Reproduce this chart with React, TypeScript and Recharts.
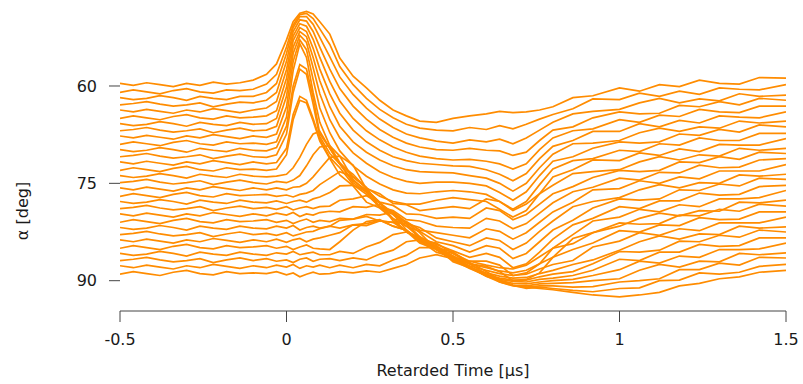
import React from 'react';
import { LineChart, Line, XAxis, YAxis, Label } from 'recharts';

// retarded time grid [µs]
const TIME = [
  -0.5, -0.46, -0.42, -0.38, -0.34, -0.3, -0.26, -0.22, -0.18, -0.14, -0.1,
  -0.06, -0.03, 0, 0.02, 0.04, 0.06, 0.08, 0.1,
  0.13, 0.16, 0.2, 0.24, 0.28, 0.32, 0.36, 0.4, 0.45,
  0.5, 0.55, 0.6, 0.64, 0.68, 0.72, 0.76, 0.8,
  0.86, 0.92, 1.0, 1.06, 1.12, 1.18, 1.24, 1.3, 1.36, 1.42, 1.5,
];

// one trace per observation angle, values in degrees
const A60 = [59.6, 59.9, 59.5, 59.8, 60.1, 59.6, 59.9, 59.4, 59.7, 59.5, 59.1, 58.2, 56.6, 52.9, 50.1, 48.8, 48.5, 48.9, 50.1, 52.0, 55.7, 58.5, 60.3, 62.2, 63.7, 64.6, 65.4, 65.6, 65.0, 64.6, 64.3, 63.9, 64.1, 64.0, 63.7, 63.2, 61.8, 61.5, 60.3, 60.8, 59.8, 60.1, 59.1, 59.6, 59.7, 58.7, 58.8];
const A61 = [61.0, 60.6, 60.9, 61.2, 60.7, 60.4, 60.9, 61.1, 60.6, 60.7, 60.5, 59.7, 58.2, 54.0, 50.6, 49.0, 48.8, 49.6, 51.2, 53.6, 57.0, 59.8, 61.9, 63.6, 64.9, 65.9, 66.5, 66.8, 66.9, 66.4, 66.7, 66.1, 66.6, 65.9, 65.1, 64.4, 63.5, 62.0, 62.1, 61.1, 61.6, 60.8, 61.3, 60.3, 60.5, 60.6, 59.8];
const A62 = [61.8, 62.1, 61.9, 61.5, 61.8, 62.2, 61.6, 61.9, 62.1, 61.6, 61.6, 61.0, 59.6, 55.0, 51.0, 49.3, 49.3, 50.5, 52.5, 55.5, 58.6, 61.3, 63.4, 65.1, 66.4, 67.4, 68.0, 68.5, 68.8, 68.3, 68.6, 68.2, 68.9, 68.0, 66.8, 65.6, 64.3, 63.9, 63.6, 62.6, 61.9, 62.6, 62.0, 62.3, 61.2, 61.6, 61.4];
const A63 = [62.9, 62.7, 62.4, 62.8, 63.1, 62.9, 62.6, 63.2, 62.8, 62.5, 62.6, 62.2, 61.0, 56.2, 51.6, 49.8, 50.0, 51.6, 54.0, 57.4, 60.4, 63.1, 65.1, 66.7, 67.9, 68.8, 69.4, 69.8, 69.9, 69.6, 69.9, 70.0, 70.7, 70.2, 68.4, 66.8, 66.3, 64.9, 64.0, 64.3, 64.2, 63.0, 63.2, 62.4, 62.9, 61.9, 62.2];
const A64 = [63.7, 64.0, 63.6, 63.9, 64.2, 63.7, 64.0, 63.5, 63.8, 64.1, 63.7, 63.4, 62.4, 57.5, 52.3, 50.4, 50.8, 52.8, 55.6, 59.3, 62.3, 65.0, 66.9, 68.3, 69.4, 70.2, 70.8, 71.2, 71.4, 71.3, 71.6, 72.0, 72.8, 72.0, 69.8, 68.0, 66.9, 66.6, 65.2, 65.6, 64.5, 64.7, 63.6, 64.0, 64.1, 63.1, 63.1];
const A65 = [65.0, 64.6, 64.9, 65.2, 64.7, 64.4, 64.9, 65.1, 64.6, 64.9, 64.8, 64.6, 63.8, 58.8, 53.0, 51.0, 51.6, 54.2, 57.4, 61.2, 64.2, 66.8, 68.6, 69.9, 70.9, 71.5, 71.9, 72.1, 72.3, 72.4, 72.9, 73.6, 74.6, 73.5, 71.2, 69.3, 68.4, 67.0, 67.0, 65.8, 66.3, 65.3, 65.7, 64.6, 64.8, 64.9, 64.0];
const A66 = [65.8, 66.1, 65.9, 65.5, 65.8, 66.2, 65.6, 65.9, 66.1, 65.6, 65.9, 65.8, 65.0, 60.2, 54.0, 51.6, 52.4, 55.6, 59.2, 63.2, 66.2, 68.6, 70.2, 71.4, 72.3, 72.9, 73.2, 73.3, 73.4, 73.8, 74.2, 75.0, 76.2, 75.0, 72.6, 70.5, 68.9, 68.8, 68.4, 67.2, 66.5, 67.0, 66.3, 66.5, 65.4, 65.7, 65.4];
const A67 = [66.9, 66.7, 66.4, 66.8, 67.1, 66.9, 66.6, 67.2, 66.8, 66.5, 66.9, 66.8, 66.2, 61.6, 55.0, 52.2, 53.3, 57.2, 61.2, 65.2, 68.0, 70.3, 71.9, 73.2, 74.1, 74.7, 75.0, 74.8, 74.8, 75.0, 75.4, 76.4, 77.6, 76.3, 73.8, 71.6, 70.9, 69.6, 68.6, 68.8, 68.6, 67.4, 67.6, 66.7, 67.1, 66.0, 66.3];
const A68 = [67.7, 68.0, 67.6, 67.9, 68.2, 67.7, 68.0, 67.5, 67.8, 68.1, 67.7, 67.9, 67.4, 63.2, 56.2, 52.9, 54.4, 59.0, 63.4, 67.2, 70.0, 72.3, 73.9, 75.1, 76.0, 76.5, 76.6, 76.3, 76.1, 76.3, 76.7, 77.8, 79.0, 77.8, 75.2, 72.8, 71.5, 71.2, 69.9, 70.1, 68.9, 69.1, 68.0, 68.4, 68.4, 67.3, 67.3];
const A69 = [69.0, 68.6, 68.9, 69.2, 68.7, 68.4, 68.9, 69.1, 68.6, 68.9, 68.8, 69.0, 68.6, 64.8, 57.6, 53.5, 55.6, 61.0, 65.6, 69.2, 71.8, 74.0, 75.7, 77.0, 77.8, 78.2, 78.2, 77.6, 77.2, 77.5, 77.8, 79.0, 80.2, 79.2, 76.6, 74.0, 72.9, 71.4, 71.5, 70.3, 70.7, 69.7, 70.1, 69.0, 69.1, 69.1, 68.1];
const A70 = [69.8, 70.1, 69.9, 69.5, 69.8, 70.2, 69.6, 69.9, 70.1, 69.6, 69.9, 70.0, 69.5, 66.2, 60.0, 56.7, 57.4, 61.8, 67.4, 69.6, 72.0, 73.6, 75.8, 76.6, 78.1, 78.3, 79.2, 78.9, 78.6, 78.9, 77.4, 77.8, 79.2, 78.2, 76.6, 75.3, 73.5, 73.2, 72.9, 71.7, 70.9, 71.4, 70.6, 70.8, 69.6, 69.9, 69.6];
const A71 = [70.9, 70.7, 70.4, 70.8, 71.1, 70.9, 70.6, 71.2, 70.8, 70.5, 70.9, 71.0, 70.6, 67.4, 61.0, 57.4, 58.2, 62.8, 67.8, 70.4, 72.0, 74.6, 76.0, 77.9, 78.4, 79.7, 79.8, 80.4, 80.2, 80.4, 78.8, 79.2, 80.6, 79.8, 78.2, 76.6, 75.5, 74.1, 73.0, 73.2, 73.0, 71.7, 71.8, 70.9, 71.3, 70.2, 70.4];
const A72 = [71.7, 72.0, 71.6, 71.9, 72.2, 71.7, 72.0, 71.5, 71.8, 72.1, 71.7, 72.0, 71.8, 69.6, 64.4, 61.6, 62.2, 65.0, 68.2, 71.0, 72.6, 75.2, 76.7, 78.6, 79.2, 80.6, 80.8, 81.6, 81.8, 81.9, 80.4, 80.8, 82.0, 81.2, 79.6, 78.0, 76.3, 75.6, 74.2, 74.5, 73.3, 73.4, 72.2, 72.6, 72.5, 71.4, 71.2];
const A73 = [73.0, 72.6, 72.9, 73.2, 72.7, 72.4, 72.9, 73.1, 72.6, 72.9, 72.8, 73.0, 72.8, 70.6, 65.2, 62.2, 62.6, 65.4, 68.5, 71.2, 73.7, 75.4, 77.9, 78.8, 80.5, 80.9, 82.2, 82.6, 83.0, 83.4, 82.0, 82.4, 83.6, 82.6, 81.0, 79.4, 77.9, 76.0, 75.8, 74.6, 75.0, 74.0, 74.3, 73.1, 73.1, 73.1, 72.1];
const A74 = [73.8, 74.1, 73.9, 73.5, 73.8, 74.2, 73.6, 73.9, 74.1, 73.6, 73.9, 74.0, 73.9, 73.6, 72.6, 71.0, 69.0, 67.4, 67.0, 69.6, 72.0, 74.9, 76.4, 78.6, 79.5, 81.2, 81.8, 83.4, 84.0, 84.6, 83.4, 83.8, 85.2, 84.2, 82.4, 80.8, 78.6, 77.8, 77.2, 76.0, 75.2, 75.7, 74.9, 75.0, 73.7, 73.9, 73.6];
const A75 = [74.9, 74.7, 74.4, 74.8, 75.1, 74.9, 74.6, 75.2, 74.8, 74.5, 74.9, 75.1, 74.7, 74.9, 74.5, 73.8, 72.3, 70.6, 69.4, 69.2, 70.8, 74.4, 76.3, 78.7, 79.8, 81.6, 82.4, 84.0, 84.6, 85.6, 84.6, 85.0, 86.6, 85.8, 84.0, 82.2, 80.7, 78.8, 77.4, 77.6, 77.4, 76.0, 76.1, 75.1, 75.4, 74.2, 74.4];
const A76 = [75.7, 76.0, 75.6, 75.9, 76.2, 75.7, 76.0, 75.5, 75.8, 76.1, 75.7, 76.0, 75.7, 76.0, 75.6, 75.5, 75.0, 74.0, 72.8, 71.0, 70.8, 72.2, 75.9, 78.0, 80.5, 81.6, 83.3, 84.4, 85.4, 86.4, 85.8, 86.4, 88.0, 87.4, 85.6, 83.6, 81.4, 80.4, 78.6, 78.9, 77.7, 77.7, 76.5, 76.8, 76.7, 75.5, 75.3];
const A77 = [77.0, 76.6, 76.9, 77.2, 76.7, 76.4, 76.9, 77.1, 76.6, 76.9, 76.8, 76.7, 77.0, 76.8, 77.1, 76.7, 76.5, 76.1, 75.2, 74.2, 73.2, 74.0, 75.6, 78.7, 80.4, 82.5, 83.4, 85.2, 85.8, 87.0, 87.0, 87.6, 89.2, 88.8, 87.4, 85.0, 82.9, 80.8, 80.2, 79.0, 79.4, 78.3, 78.6, 77.4, 77.4, 77.2, 76.1];
const A78 = [77.8, 78.1, 77.9, 77.5, 77.8, 78.2, 77.6, 77.9, 78.1, 77.6, 77.9, 78.0, 77.7, 78.1, 77.8, 77.6, 77.9, 77.4, 77.1, 76.4, 75.4, 75.3, 76.2, 78.0, 80.8, 82.4, 84.2, 85.2, 86.2, 87.4, 87.8, 88.6, 90.0, 89.8, 88.8, 86.4, 83.5, 82.6, 81.6, 80.4, 79.6, 80.0, 79.2, 79.3, 77.9, 78.0, 77.6];
const A79 = [78.9, 78.7, 78.4, 78.8, 79.1, 78.9, 78.6, 79.2, 78.8, 78.5, 78.9, 78.7, 79.0, 78.6, 79.1, 78.8, 78.6, 78.9, 78.6, 78.5, 77.6, 77.4, 76.9, 78.0, 79.6, 82.2, 83.8, 85.6, 86.4, 87.0, 87.6, 88.0, 88.2, 87.6, 86.3, 85.0, 84.3, 82.6, 81.1, 81.3, 81.2, 79.9, 80.0, 79.0, 79.3, 78.2, 78.5];
const A80 = [79.7, 80.0, 79.6, 79.9, 80.2, 79.7, 80.0, 79.5, 79.8, 80.1, 79.7, 80.0, 79.6, 79.9, 79.5, 80.1, 79.7, 79.9, 79.5, 79.3, 79.4, 78.6, 78.7, 78.2, 79.6, 81.2, 83.6, 85.0, 86.6, 87.4, 88.0, 88.5, 88.8, 88.4, 87.4, 86.4, 85.2, 84.2, 82.3, 82.5, 81.4, 81.5, 80.3, 80.6, 80.5, 79.4, 79.4];
const A81 = [81.0, 80.6, 80.9, 81.2, 80.7, 80.4, 80.9, 81.1, 80.6, 80.9, 80.8, 80.6, 81.0, 80.7, 81.2, 80.8, 80.5, 81.0, 80.7, 80.9, 80.4, 80.5, 79.8, 79.9, 79.4, 81.0, 82.6, 85.2, 86.9, 87.7, 88.4, 88.9, 89.2, 89.0, 88.2, 87.5, 86.9, 84.8, 83.9, 82.6, 83.0, 82.0, 82.3, 81.1, 81.1, 81.1, 80.2];
const A82 = [81.8, 82.1, 81.9, 81.5, 81.8, 82.2, 81.6, 81.9, 82.1, 81.6, 81.9, 82.0, 81.6, 81.9, 81.5, 82.2, 81.8, 81.6, 81.9, 81.6, 81.9, 81.4, 81.5, 80.8, 81.0, 81.2, 83.2, 84.8, 87.1, 88.0, 88.8, 89.3, 89.6, 89.5, 88.9, 88.4, 87.5, 86.8, 85.3, 84.0, 83.1, 83.6, 82.8, 82.9, 81.6, 81.9, 81.7];
const A83 = [82.9, 82.7, 82.4, 82.8, 83.1, 82.9, 82.6, 83.2, 82.8, 82.5, 82.9, 82.7, 83.0, 82.6, 83.1, 82.8, 82.5, 82.4, 82.0, 81.6, 80.7, 80.5, 80.1, 80.8, 81.0, 82.4, 83.4, 85.2, 86.6, 87.9, 89.0, 89.6, 89.9, 89.9, 89.4, 89.0, 88.6, 87.4, 85.5, 85.6, 85.3, 83.9, 84.0, 83.0, 83.3, 82.2, 82.5];
const A84 = [83.7, 84.0, 83.6, 83.9, 84.2, 83.7, 84.0, 83.5, 83.8, 84.1, 83.7, 84.0, 83.6, 84.1, 83.7, 83.5, 84.0, 83.6, 83.4, 83.0, 82.6, 81.4, 81.2, 80.7, 81.6, 82.2, 84.0, 85.0, 86.8, 88.1, 89.2, 89.8, 90.1, 90.2, 89.8, 89.6, 89.2, 88.4, 86.7, 86.9, 85.6, 85.6, 84.4, 84.7, 84.6, 83.4, 83.4];
const A85 = [85.0, 84.6, 84.9, 85.2, 84.7, 84.4, 84.9, 85.1, 84.6, 84.9, 84.8, 84.6, 85.0, 84.7, 85.2, 84.8, 84.5, 85.0, 85.1, 85.2, 84.0, 82.2, 80.9, 80.6, 81.6, 82.2, 83.8, 84.8, 86.4, 88.0, 89.3, 90.0, 90.4, 90.5, 90.2, 90.0, 89.8, 89.2, 88.3, 87.0, 87.3, 86.2, 86.4, 85.2, 85.2, 85.1, 84.2];
const A86 = [85.8, 86.1, 85.9, 85.5, 85.8, 86.2, 85.6, 85.9, 86.1, 85.6, 85.9, 86.1, 85.7, 85.9, 85.5, 86.0, 85.8, 85.6, 86.0, 86.0, 85.5, 85.8, 84.8, 84.1, 82.9, 82.5, 83.6, 84.6, 86.2, 87.8, 89.3, 90.2, 90.7, 90.8, 90.5, 90.4, 90.3, 90.0, 89.7, 88.4, 87.5, 87.9, 87.0, 87.1, 85.8, 86.0, 85.7];
const A87 = [86.9, 86.7, 86.4, 86.8, 87.1, 86.9, 86.6, 87.2, 86.8, 86.5, 86.9, 86.6, 87.0, 86.8, 87.2, 86.7, 86.5, 87.0, 86.7, 86.6, 86.9, 86.5, 86.8, 85.9, 85.3, 84.0, 83.7, 84.2, 85.8, 87.4, 89.0, 90.2, 90.8, 91.0, 90.8, 90.8, 91.0, 90.9, 90.2, 90.0, 89.7, 88.3, 88.3, 87.3, 87.6, 86.4, 86.5];
const A88 = [87.7, 88.0, 87.6, 87.9, 88.2, 87.7, 88.0, 87.5, 87.8, 88.1, 87.7, 88.0, 87.6, 87.9, 87.5, 88.1, 87.7, 87.9, 87.6, 88.0, 87.6, 88.0, 87.5, 87.7, 86.8, 86.1, 84.9, 84.9, 85.6, 87.2, 88.6, 89.9, 90.7, 91.2, 91.0, 91.2, 91.5, 91.7, 91.2, 91.1, 90.0, 89.9, 88.8, 89.0, 88.7, 87.8, 87.5];
const A89 = [89.0, 88.6, 88.9, 89.2, 88.7, 88.4, 88.9, 89.1, 88.6, 88.9, 88.8, 88.9, 88.6, 89.1, 88.8, 89.4, 89.0, 88.7, 89.0, 88.9, 88.6, 88.8, 88.5, 88.7, 88.1, 87.5, 86.5, 86.0, 86.6, 87.8, 89.1, 90.1, 90.7, 91.0, 91.2, 91.4, 91.8, 92.2, 92.5, 92.2, 91.8, 90.8, 90.4, 89.7, 89.4, 88.7, 88.4];

const TRACES = [
  A60, A61, A62, A63, A64, A65, A66, A67, A68, A69,
  A70, A71, A72, A73, A74, A75, A76, A77, A78, A79,
  A80, A81, A82, A83, A84, A85, A86, A87, A88, A89,
];

const X_TICKS = [-0.5, 0, 0.5, 1, 1.5];
const Y_TICKS = [60, 75, 90];

const rows = TIME.map((t, i) => {
  const row: Record<string, number> = { t };
  TRACES.forEach((tr, k) => {
    row[`a${k}`] = tr[i];
  });
  return row;
});

const FONT = 'DejaVu Sans, sans-serif';
const AXIS = '#444';
const ORANGE = '#ff8c00';

const YTitle = () => (
  <text
    x={22}
    y={211}
    transform="rotate(-90 22 211)"
    textAnchor="middle"
    dominantBaseline="central"
    fontFamily={FONT}
    fontSize={16}
    fill="#1a1a1a"
  >
    α [deg]
  </text>
);

const XTitle = () => (
  <text
    x={453}
    y={370}
    textAnchor="middle"
    dominantBaseline="central"
    fontFamily={FONT}
    fontSize={16}
    fill="#1a1a1a"
  >
    Retarded Time [μs]
  </text>
);

export default function App() {
  return (
    <div style={{ position: 'absolute', left: 0, top: 0, background: '#fff' }}>
      <LineChart
        width={803}
        height={384}
        data={rows}
        margin={{ top: 5, right: 17, bottom: 0, left: 0 }}
      >
        <XAxis
          dataKey="t"
          type="number"
          domain={[-0.5, 1.5]}
          ticks={X_TICKS}
          allowDataOverflow
          height={73}
          stroke={AXIS}
          tickSize={11}
          tickMargin={12}
          tick={{ fontFamily: FONT, fontSize: 16, fill: '#1a1a1a' }}
        >
          <Label content={<XTitle />} />
        </XAxis>
        <YAxis
          type="number"
          reversed
          domain={[47.52, 94.67]}
          ticks={Y_TICKS}
          allowDataOverflow
          width={120}
          axisLine={false}
          stroke={AXIS}
          tickSize={11}
          tickMargin={12}
          tick={{ fontFamily: FONT, fontSize: 16, fill: '#1a1a1a' }}
        >
          <Label content={<YTitle />} />
        </YAxis>
        {TRACES.map((_, k) => (
          <Line
            key={k}
            dataKey={`a${k}`}
            stroke={ORANGE}
            strokeWidth={1.7}
            dot={false}
            activeDot={false}
            isAnimationActive={false}
          />
        ))}
      </LineChart>
    </div>
  );
}
